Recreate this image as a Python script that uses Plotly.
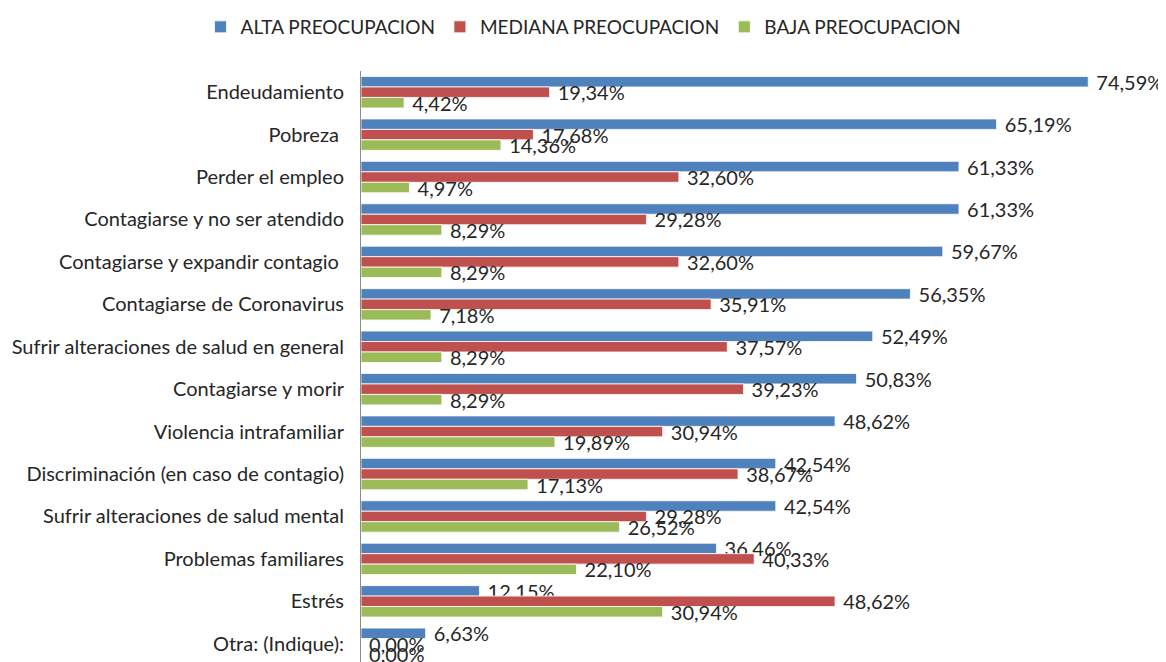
import plotly.graph_objects as go

categories = [
    "Endeudamiento", "Pobreza ", "Perder el empleo", "Contagiarse y no ser atendido",
    "Contagiarse y expandir contagio ", "Contagiarse de Coronavirus",
    "Sufrir alteraciones de salud en general", "Contagiarse y morir",
    "Violencia intrafamiliar", "Discriminación (en caso de contagio)",
    "Sufrir alteraciones de salud mental", "Problemas familiares", "Estrés",
    "Otra: (Indique):",
]
alta = [74.59, 65.19, 61.33, 61.33, 59.67, 56.35, 52.49, 50.83, 48.62, 42.54, 42.54, 36.46, 12.15, 6.63]
mediana = [19.34, 17.68, 32.60, 29.28, 32.60, 35.91, 37.57, 39.23, 30.94, 38.67, 29.28, 40.33, 48.62, 0.00]
baja = [4.42, 14.36, 4.97, 8.29, 8.29, 7.18, 8.29, 8.29, 19.89, 17.13, 26.52, 22.10, 30.94, 0.00]

series = [
    ("ALTA PREOCUPACION", alta, "#4F81BD"),
    ("MEDIANA PREOCUPACION", mediana, "#C0504D"),
    ("BAJA PREOCUPACION", baja, "#9BBB59"),
]

FONT = "Lato"
fig = go.Figure()
for name, vals, color in series:
    fig.add_trace(go.Bar(
        name=name, y=categories, x=vals, orientation="h",
        marker=dict(color=color, line=dict(color="rgba(255,255,255,0.8)", width=1)),
        texttemplate="\u00a0%{x:.2f}%", textposition="outside",
        constraintext="none", cliponaxis=False,
        textfont=dict(family=FONT, size=20, color="#262626"),
    ))

fig.update_layout(
    width=1158, height=654,
    barmode="group", bargap=0.26, bargroupgap=0.0,
    separators=",.",
    paper_bgcolor="white", plot_bgcolor="white",
    margin=dict(l=353, r=25, t=63, b=0, autoexpand=False),
    font=dict(family=FONT, size=20, color="#262626"),
    legend=dict(orientation="h", xref="container", yref="container",
                x=0.497, xanchor="center", y=1.0, yanchor="top",
                font=dict(family=FONT, size=19, color="#262626"),
                traceorder="normal", itemwidth=30),
    xaxis=dict(range=[0, 80], visible=False, showgrid=False, zeroline=False),
    yaxis=dict(range=[13.43, -0.5], showline=True, linecolor="#8c8c8c", linewidth=1,
               ticks="", showgrid=False, ticklabelstandoff=12,
               tickfont=dict(family=FONT, size=20, color="#262626")),
)
fig.write_html("out.html")
